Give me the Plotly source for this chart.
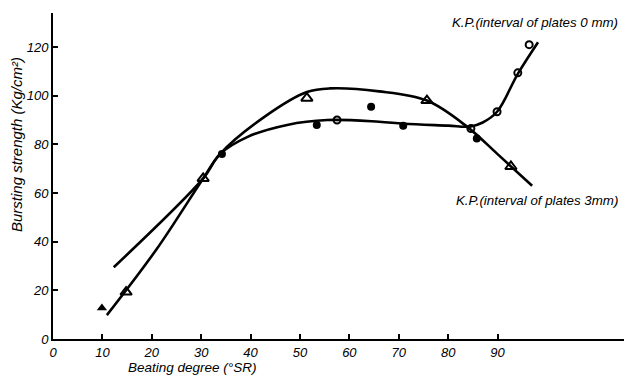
import plotly.graph_objects as go

# ---- data ----
x_ticks = [0, 10, 20, 30, 40, 50, 60, 70, 80, 90]
y_ticks = [0, 20, 40, 60, 80, 100, 120]

# curve K.P. (interval of plates 3 mm)
curve3_x = [10.9, 21, 30.4, 33.8, 43.3, 51.4, 56, 66, 75.7, 83.8, 90, 97]
curve3_y = [9.8, 37, 66, 76, 92, 101.5, 103, 101.8, 98, 87.3, 76, 63]

# curve K.P. (interval of plates 0 mm)
curve0_x = [12.3, 30.4, 33.8, 39.3, 47.4, 55.5, 66, 71, 80, 84.4, 87, 89.9, 94.1, 98.2]
curve0_y = [29.5, 66, 76, 83, 88, 90, 89.3, 88.5, 87.7, 87.3, 89, 93.4, 109, 122]

# triangle markers (3 mm)
tri_open_x = [14.8, 30.4, 51.4, 75.7, 92.7]
tri_open_y = [19.3, 66, 99, 98, 70.9]
tri_fill_x = [9.9]
tri_fill_y = [12.7]

# circle markers (0 mm)
circ_open_x = [57.5, 84.6, 89.9, 94.1, 96.4]
circ_open_y = [90, 86.5, 93.4, 109.4, 121]
circ_fill_x = [34.2, 53.4, 64.4, 70.9, 85.8]
circ_fill_y = [76, 88, 95.5, 87.7, 82.4]

label_0mm = "K.P.(interval of plates 0 mm)"
label_3mm = "K.P.(interval of plates 3mm)"
x_title = "Beating degree (°SR)"
y_title = "Bursting strength (Kg/cm²)"

FONT = "Liberation Sans"
ink = "black"

fig = go.Figure()
fig.add_trace(go.Scatter(x=curve3_x, y=curve3_y, mode="lines",
                         line=dict(color=ink, width=2.6, shape="spline", smoothing=1.0),
                         hoverinfo="skip"))
fig.add_trace(go.Scatter(x=curve0_x, y=curve0_y, mode="lines",
                         line=dict(color=ink, width=2.6, shape="spline", smoothing=1.0),
                         hoverinfo="skip"))
fig.add_trace(go.Scatter(x=tri_open_x, y=tri_open_y, mode="markers",
                         marker=dict(symbol="triangle-up-open", size=10, color=ink,
                                     line=dict(width=2, color=ink))))
fig.add_trace(go.Scatter(x=tri_fill_x, y=tri_fill_y, mode="markers",
                         marker=dict(symbol="triangle-up", size=9, color=ink)))
fig.add_trace(go.Scatter(x=circ_open_x, y=circ_open_y, mode="markers",
                         marker=dict(symbol="circle-open", size=7, color=ink,
                                     line=dict(width=2, color=ink))))
fig.add_trace(go.Scatter(x=circ_fill_x, y=circ_fill_y, mode="markers",
                         marker=dict(symbol="circle", size=8, color=ink)))

lab_font = dict(family=FONT, size=13.3, color=ink, style="italic")
fig.add_annotation(x=80.4, xref="x", xanchor="left", y=130, yref="y", yanchor="middle",
                   text=label_0mm, showarrow=False, font=lab_font)
fig.add_annotation(x=81.2, xref="x", xanchor="left", y=57, yref="y", yanchor="middle",
                   text=label_3mm, showarrow=False, font=lab_font)

fig.add_annotation(x=(192 - 53) / 571, xref="paper", xanchor="center",
                   y=-0.086, yref="paper", yanchor="middle",
                   text=x_title, showarrow=False,
                   font=dict(family=FONT, size=13.5, color=ink, style="italic"))
fig.add_annotation(x=(16 - 53) / 571, xref="paper", xanchor="center",
                   y=0.595, yref="paper", yanchor="middle", textangle=-90,
                   text=y_title, showarrow=False,
                   font=dict(family=FONT, size=15, color=ink, style="italic"))

fig.update_layout(
    width=624, height=378,
    margin=dict(l=53, r=0, t=13, b=39),
    paper_bgcolor="white", plot_bgcolor="white",
    showlegend=False,
    font=dict(family=FONT, color=ink),
    xaxis=dict(range=[0, 115.6], tickvals=x_ticks, ticktext=[str(v) for v in x_ticks],
               automargin=False,
               showgrid=False, zeroline=False, showline=True, linecolor=ink, linewidth=2,
               ticks="inside", ticklen=5, tickwidth=1.5, tickcolor=ink,
               tickfont=dict(family=FONT, size=13, color=ink, style="italic")),
    yaxis=dict(range=[0, 134], tickvals=y_ticks, ticktext=[str(v) for v in y_ticks],
               automargin=False,
               showgrid=False, zeroline=False, showline=True, linecolor=ink, linewidth=2,
               ticks="inside", ticklen=5, tickwidth=1.5, tickcolor=ink,
               tickfont=dict(family=FONT, size=13, color=ink, style="italic")),
)

fig.write_html("out.html",
               config={"displayModeBar": False},
               post_script="document.body.style.margin='0';document.body.style.overflow='hidden';")
